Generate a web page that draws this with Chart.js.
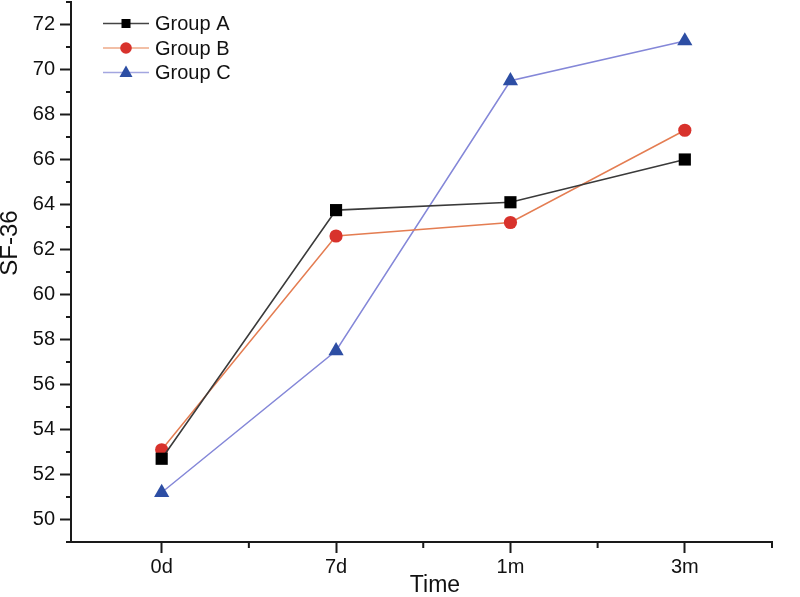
<!DOCTYPE html>
<html>
<head>
<meta charset="utf-8">
<script src="https://cdn.jsdelivr.net/npm/chart.js@4/dist/chart.umd.min.js"></script>
<style>
  html, body { margin: 0; padding: 0; background: #fff; }
  #wrap { width: 800px; height: 597px; }
</style>
</head>
<body>
<div id="wrap"><canvas id="sfChart"></canvas></div>
<script>
// values
const timeLabels = ["0d", "7d", "1m", "3m"];
const groupA = [52.7, 63.75, 64.1, 66.0];
const groupB = [53.1, 62.6, 63.2, 67.3];
const groupC = [51.2, 57.5, 69.5, 71.27];
const yTickMin = 49;
const yTickMax = 73;

const toPoints = (vals) => vals.map((v, i) => ({ x: i, y: v }));

const AXIS = "#1a1a1a";
const FONT = "'Liberation Sans', Arial, sans-serif";

function drawMarker(ctx, style, x, y, color) {
  ctx.save();
  ctx.fillStyle = color;
  ctx.beginPath();
  if (style === "rect") {
    ctx.rect(x - 4.5, y - 4.5, 9, 9);
  } else if (style === "circle") {
    ctx.arc(x, y, 5.8, 0, Math.PI * 2);
  } else {
    ctx.moveTo(x, y - 7);
    ctx.lineTo(x + 6.5, y + 4.5);
    ctx.lineTo(x - 6.5, y + 4.5);
    ctx.closePath();
  }
  ctx.fill();
  ctx.restore();
}

// minor ticks, axis titles and the line+marker legend
const extras = {
  id: "extras",
  afterDraw(chart) {
    const ctx = chart.ctx;
    const xs = chart.scales.x, ys = chart.scales.y;
    ctx.save();
    ctx.strokeStyle = AXIS;
    ctx.lineWidth = 2;
    ctx.beginPath();
    xs.ticks.forEach(t => {
      if (t.value % 1 !== 0 && (t.value * 2) % 1 === 0) {
        const px = xs.getPixelForValue(t.value);
        ctx.moveTo(px, xs.top);
        ctx.lineTo(px, xs.top + 6);
      }
    });
    ys.ticks.forEach(t => {
      if (t.value % 2 !== 0) {
        const py = ys.getPixelForValue(t.value);
        ctx.moveTo(ys.right, py);
        ctx.lineTo(ys.right - 5, py);
      }
    });
    ctx.stroke();

    // axis titles
    ctx.fillStyle = "#111";
    ctx.font = "23px " + FONT;
    ctx.textAlign = "center";
    ctx.textBaseline = "middle";
    ctx.fillText("Time", 435, 586);
    ctx.save();
    ctx.translate(10, 243);
    ctx.rotate(-Math.PI / 2);
    ctx.font = "24px " + FONT;
    ctx.fillText("SF-36", 0, 0);
    ctx.restore();

    // legend
    const rows = [23.5, 48, 72.5];
    ctx.textAlign = "left";
    chart.data.datasets.forEach((ds, i) => {
      const y = rows[i];
      ctx.strokeStyle = ds.legendLine;
      ctx.lineWidth = 1.5;
      ctx.beginPath();
      ctx.moveTo(103, y);
      ctx.lineTo(149, y);
      ctx.stroke();
      drawMarker(ctx, ds.pointStyle, 126, y, ds.pointBackgroundColor);
      ctx.fillStyle = "#111";
      ctx.font = "20px " + FONT;
      ctx.textBaseline = "middle";
      ctx.fillText(ds.label, 155, y + 1);
    });
    ctx.restore();
  }
};

new Chart(document.getElementById("sfChart"), {
  type: "line",
  data: {
    datasets: [
      {
        label: "Group A",
        data: toPoints(groupA),
        borderColor: "#3a3a3a",
        legendLine: "#444",
        borderWidth: 1.6,
        pointStyle: "rect",
        pointRadius: 8.6,
        pointBackgroundColor: "#000",
        pointBorderWidth: 0
      },
      {
        label: "Group B",
        data: toPoints(groupB),
        borderColor: "#e47d52",
        legendLine: "#eeaa88",
        borderWidth: 1.5,
        pointStyle: "circle",
        pointRadius: 6.6,
        pointBackgroundColor: "#d8322c",
        pointBorderWidth: 0
      },
      {
        label: "Group C",
        data: toPoints(groupC),
        borderColor: "#8487d8",
        legendLine: "#a3a6e0",
        borderWidth: 1.5,
        pointStyle: "triangle",
        pointRadius: 8.8,
        pointBackgroundColor: "#2d4ea4",
        pointBorderWidth: 0
      }
    ]
  },
  options: {
    responsive: true,
    maintainAspectRatio: false,
    animation: false,
    layout: { autoPadding: false, padding: { top: 2, right: 28, left: 0, bottom: 0 } },
    plugins: { legend: { display: false }, tooltip: { enabled: false } },
    elements: { line: { tension: 0 } },
    scales: {
      x: {
        type: "linear",
        min: -0.52,
        max: 3.5,
        afterFit(scale) {
          scale.height = 55;
          scale.paddingLeft = 0;
          scale.paddingRight = 0;
        },
        border: { display: true, color: AXIS, width: 2 },
        grid: {
          drawOnChartArea: false,
          tickLength: 11,
          tickWidth: 2,
          tickColor: (c) => (c.tick && c.tick.value % 1 === 0 ? AXIS : "rgba(0,0,0,0)")
        },
        ticks: {
          stepSize: 0.5,
          autoSkip: false,
          maxRotation: 0,
          padding: 2,
          color: "#111",
          font: { family: FONT, size: 20 },
          callback: (v) => (v % 1 === 0 && timeLabels[v] !== undefined ? timeLabels[v] : "")
        },
        title: { display: false }
      },
      y: {
        min: yTickMin,
        max: yTickMax,
        afterFit(scale) {
          scale.width = 71;
          scale.paddingTop = 0;
          scale.paddingBottom = 0;
        },
        border: { display: true, color: AXIS, width: 2 },
        grid: {
          drawOnChartArea: false,
          tickLength: 11,
          tickWidth: 2,
          tickColor: (c) => (c.tick && c.tick.value % 2 === 0 ? AXIS : "rgba(0,0,0,0)")
        },
        ticks: {
          stepSize: 1,
          autoSkip: false,
          padding: 5,
          color: "#111",
          font: { family: FONT, size: 20 },
          callback: (v) => (v % 2 === 0 ? String(v) : "")
        },
        title: { display: false }
      }
    }
  },
  plugins: [extras]
});
</script>
</body>
</html>
